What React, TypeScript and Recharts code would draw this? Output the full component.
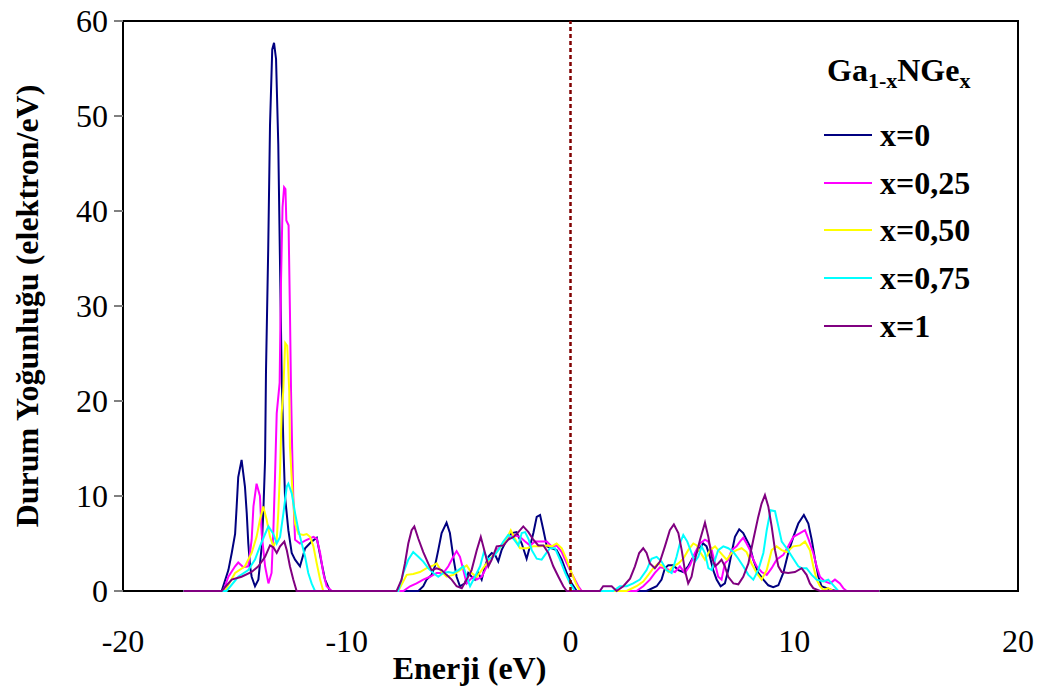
import React from 'react';
import { LineChart, Line, XAxis, YAxis, ReferenceLine, ReferenceArea, Legend, Label } from 'recharts';

// energy (eV) vs density of states, one list per composition
const dosX000: [number, number][] = [
  [-17.3, 0], [-15.59, 0], [-15.29, 2.2], [-15.14, 4.0], [-14.99, 6.0], [-14.92, 8.9], [-14.85, 12.0], [-14.7, 13.8],
  [-14.55, 11.0], [-14.47, 8.2], [-14.4, 5.0], [-14.32, 2.6], [-14.25, 1.5], [-14.1, 0.5], [-13.95, 1.2], [-13.8, 4.7],
  [-13.73, 8.2], [-13.65, 13.8], [-13.61, 23], [-13.51, 36], [-13.43, 49], [-13.33, 57], [-13.25, 57.7], [-13.16, 56],
  [-13.06, 47], [-12.98, 34], [-12.91, 23], [-12.83, 15.2], [-12.76, 10], [-12.61, 6.4], [-12.46, 4.0], [-12.31, 3.3],
  [-12.09, 2.6], [-11.86, 4.5], [-11.57, 5.2], [-11.34, 5.6], [-11.12, 2.9], [-10.97, 1.2], [-10.75, 0],
  [-6.8, 0], [-6.58, 0.5], [-6.43, 1.2], [-6.21, 1.7], [-6.06, 2.6], [-5.91, 4.3], [-5.76, 6.1], [-5.54, 7.2],
  [-5.39, 6.1], [-5.24, 3.6], [-5.09, 1.5], [-4.94, 0.5], [-4.72, 0.8], [-4.57, 1.9], [-4.42, 1.5], [-4.27, 1.2],
  [-4.12, 1.9], [-3.97, 1.2], [-3.82, 2.6], [-3.67, 3.6], [-3.52, 4.0], [-3.37, 3.8], [-3.23, 3.1], [-3.08, 4.3],
  [-2.85, 5.4], [-2.63, 6.1], [-2.41, 6.2], [-2.18, 5.0], [-1.96, 3.4], [-1.81, 4.7], [-1.66, 6.1], [-1.51, 7.8],
  [-1.36, 8.0], [-1.21, 6.4], [-1.06, 4.7], [-0.84, 4.5], [-0.62, 4.3], [-0.39, 3.3], [-0.17, 1.9], [0.05, 0.8], [0.28, 0],
  [3.4, 0], [3.85, 0.5], [4.07, 1.2], [4.22, 2.4], [4.37, 2.7], [4.59, 2.7], [4.82, 2.2], [5.04, 2.0], [5.26, 2.6],
  [5.49, 3.6], [5.71, 4.3], [5.93, 5.0], [6.08, 4.7], [6.23, 3.6], [6.38, 2.2], [6.53, 1.2], [6.71, 0.5], [6.9, 0.8],
  [7.05, 2.2], [7.2, 4.0], [7.35, 5.7], [7.54, 6.5], [7.72, 6.1], [7.87, 5.4], [8.02, 4.7], [8.17, 3.3], [8.39, 1.9],
  [8.62, 1.2], [8.84, 0.6], [9.06, 0.4], [9.29, 0.6], [9.51, 1.9], [9.73, 4.0], [9.96, 5.7], [10.18, 7.1], [10.43, 8.0],
  [10.63, 7.1], [10.78, 5.4], [10.93, 3.3], [11.08, 1.5], [11.22, 0.5], [11.45, 0.3], [11.67, 0.1], [11.9, 0], [13.8, 0],
];

const dosX025: [number, number][] = [
  [-17.3, 0], [-15.52, 0], [-15.29, 1.5], [-14.99, 2.6], [-14.85, 3.0], [-14.62, 2.5], [-14.4, 2.6], [-14.25, 5.4],
  [-14.17, 8.9], [-14.03, 11.3], [-13.88, 10.0], [-13.8, 6.0], [-13.65, 2.6], [-13.5, 0.8], [-13.36, 1.9], [-13.28, 6.4],
  [-13.21, 11.7], [-13.13, 18.7], [-13.0, 21.9], [-12.94, 32.4], [-12.87, 40.4], [-12.8, 42.5], [-12.74, 42.3],
  [-12.7, 39], [-12.6, 38.5], [-12.54, 29.6], [-12.49, 21], [-12.44, 15], [-12.39, 10], [-12.31, 5.4], [-12.09, 5.0],
  [-11.86, 5.3], [-11.49, 5.7], [-11.34, 5.5], [-11.19, 4.0], [-11.05, 1.9], [-10.9, 0.5], [-10.67, 0],
  [-7.47, 0], [-7.17, 0.5], [-6.88, 0.8], [-6.58, 1.2], [-6.28, 1.5], [-5.98, 1.9], [-5.68, 1.9], [-5.46, 2.6],
  [-5.24, 3.6], [-5.09, 4.2], [-4.94, 3.6], [-4.79, 2.2], [-4.64, 0.8], [-4.49, 1.2], [-4.34, 1.5], [-4.19, 1.2],
  [-3.97, 1.5], [-3.82, 2.2], [-3.6, 3.3], [-3.3, 4.3], [-3.0, 5.0], [-2.78, 5.7], [-2.55, 5.9], [-2.26, 5.7],
  [-2.03, 5.2], [-1.81, 4.8], [-1.59, 5.2], [-1.29, 5.2], [-1.06, 5.2], [-0.84, 4.7], [-0.62, 4.8], [-0.39, 4.1],
  [-0.17, 2.9], [0.13, 1.5], [0.35, 0.5], [0.5, 0],
  [2.95, 0], [3.25, 0.5], [3.55, 1.2], [3.77, 1.9], [4.0, 2.5], [4.22, 2.4], [4.44, 2.2], [4.67, 2.0], [4.89, 2.6],
  [5.11, 1.9], [5.34, 2.7], [5.56, 4.0], [5.79, 5.0], [6.01, 5.4], [6.16, 5.2], [6.31, 4.3], [6.46, 2.9], [6.6, 1.5],
  [6.75, 1.2], [6.9, 2.9], [7.05, 3.3], [7.2, 4.3], [7.42, 4.7], [7.57, 5.2], [7.72, 5.6], [7.87, 5.0], [8.02, 4.3],
  [8.17, 3.3], [8.32, 2.6], [8.54, 2.0], [8.77, 1.7], [8.99, 2.4], [9.21, 3.3], [9.51, 3.8], [9.73, 4.7], [9.96, 5.7],
  [10.26, 6.1], [10.48, 6.4], [10.63, 5.5], [10.85, 4.0], [11.0, 2.6], [11.15, 1.5], [11.37, 1.0], [11.6, 0.8],
  [11.82, 1.2], [12.04, 0.8], [12.19, 0.3], [12.34, 0], [13.8, 0],
];

const dosX050: [number, number][] = [
  [-17.3, 0], [-15.44, 0], [-14.99, 1.9], [-14.55, 2.6], [-14.25, 4.0], [-14.03, 5.7], [-13.88, 7.5], [-13.73, 8.9],
  [-13.58, 7.5], [-13.43, 5.7], [-13.28, 4.7], [-13.13, 5.4], [-13.06, 8.2], [-12.98, 12.7], [-12.91, 18.7],
  [-12.84, 21], [-12.75, 26.1], [-12.66, 25.8], [-12.57, 21], [-12.54, 15.2], [-12.43, 10.6], [-12.31, 7.1],
  [-12.16, 6.0], [-11.94, 5.9], [-11.79, 6.0], [-11.64, 5.7], [-11.49, 4.7], [-11.34, 2.9], [-11.19, 1.2], [-11.05, 0],
  [-7.7, 0], [-7.32, 1.7], [-7.03, 1.8], [-6.73, 2.0], [-6.43, 2.4], [-6.13, 2.7], [-5.98, 2.9], [-5.76, 2.0],
  [-5.54, 1.5], [-5.24, 1.7], [-4.94, 2.2], [-4.64, 2.7], [-4.42, 1.9], [-4.19, 1.5], [-3.97, 2.2], [-3.75, 2.9],
  [-3.52, 3.6], [-3.3, 4.1], [-3.08, 4.8], [-2.85, 5.5], [-2.67, 6.4], [-2.48, 5.5], [-2.26, 4.5], [-1.96, 4.5],
  [-1.66, 4.7], [-1.36, 4.7], [-1.06, 4.8], [-0.84, 4.7], [-0.62, 5.0], [-0.39, 4.5], [-0.17, 3.3], [0.05, 1.9],
  [0.28, 0.6], [0.43, 0],
  [2.51, 0], [2.95, 0.5], [3.25, 1.0], [3.48, 1.7], [3.7, 2.4], [3.92, 2.9], [4.15, 2.6], [4.37, 2.0], [4.59, 2.6],
  [4.82, 2.9], [5.04, 3.4], [5.26, 4.3], [5.49, 5.0], [5.64, 4.8], [5.79, 4.1], [6.01, 3.3], [6.23, 4.3], [6.46, 4.7],
  [6.68, 4.1], [6.98, 3.3], [7.2, 4.0], [7.42, 4.3], [7.65, 4.5], [7.87, 4.1], [8.09, 2.9], [8.32, 1.9], [8.54, 1.2],
  [8.77, 2.2], [8.99, 4.3], [9.21, 4.7], [9.44, 4.3], [9.66, 4.1], [9.96, 4.7], [10.26, 4.8], [10.48, 5.2], [10.7, 4.3],
  [10.85, 2.6], [11.0, 1.2], [11.15, 0.5], [11.3, 0.1], [11.52, 0.3], [11.75, 0], [13.8, 0],
];

const dosX075: [number, number][] = [
  [-17.3, 0], [-15.37, 0], [-14.85, 1.5], [-14.4, 2.2], [-14.1, 3.3], [-13.88, 4.7], [-13.65, 6.0], [-13.5, 6.8],
  [-13.28, 6.0], [-13.13, 5.0], [-12.98, 5.7], [-12.83, 8.2], [-12.68, 11.0], [-12.61, 11.3], [-12.46, 10.3],
  [-12.31, 8.2], [-12.16, 6.4], [-12.01, 5.0], [-11.86, 3.6], [-11.72, 1.9], [-11.57, 0.8], [-11.42, 0],
  [-7.7, 0], [-7.47, 1.9], [-7.25, 3.3], [-7.03, 4.1], [-6.8, 3.6], [-6.58, 3.1], [-6.36, 2.4], [-6.13, 1.9],
  [-5.91, 1.5], [-5.68, 1.9], [-5.46, 2.0], [-5.24, 1.9], [-5.01, 2.2], [-4.79, 2.6], [-4.64, 1.5], [-4.49, 0.5],
  [-4.27, 1.5], [-4.04, 2.6], [-3.87, 4.1], [-3.67, 3.3], [-3.45, 3.6], [-3.23, 4.3], [-3.0, 5.2], [-2.78, 5.9],
  [-2.55, 5.5], [-2.33, 4.8], [-2.18, 6.1], [-2.03, 6.2], [-1.88, 5.5], [-1.73, 4.3], [-1.51, 3.4], [-1.29, 3.3],
  [-1.14, 3.8], [-0.92, 4.5], [-0.69, 4.5], [-0.47, 3.3], [-0.24, 1.9], [-0.02, 0.8], [0.2, 0],
  [1.91, 0], [2.21, 0.5], [2.51, 0.5], [2.8, 0.8], [3.1, 1.2], [3.4, 2.2], [3.62, 3.4], [3.85, 3.6], [4.07, 3.1],
  [4.29, 2.2], [4.52, 1.9], [4.74, 3.6], [4.89, 5.0], [5.04, 5.9], [5.22, 5.2], [5.41, 4.0], [5.56, 3.1], [5.71, 3.6],
  [5.86, 4.7], [6.01, 4.0], [6.16, 2.4], [6.31, 2.2], [6.46, 3.3], [6.6, 4.3], [6.83, 4.7], [7.05, 4.5], [7.28, 4.1],
  [7.5, 3.4], [7.72, 2.6], [7.95, 1.7], [8.17, 1.2], [8.39, 2.2], [8.62, 4.0], [8.77, 6.4], [8.94, 8.5], [9.14, 8.4],
  [9.29, 6.8], [9.44, 5.2], [9.66, 4.5], [9.96, 3.4], [10.18, 2.6], [10.33, 2.4], [10.55, 2.4], [10.78, 1.7],
  [11.0, 1.2], [11.3, 1.0], [11.52, 1.2], [11.75, 0.6], [11.97, 0], [13.8, 0],
];

const dosX100: [number, number][] = [
  [-17.3, 0], [-15.59, 0], [-15.14, 1.2], [-14.7, 1.5], [-14.25, 2.0], [-13.95, 2.6], [-13.65, 3.6], [-13.43, 4.8],
  [-13.28, 4.6], [-13.13, 4.0], [-12.98, 4.7], [-12.79, 5.2], [-12.68, 4.3], [-12.54, 2.6], [-12.39, 1.2], [-12.24, 0],
  [-7.77, 0], [-7.55, 1.2], [-7.4, 2.9], [-7.25, 5.0], [-7.1, 6.4], [-6.98, 6.8], [-6.8, 5.5], [-6.58, 4.1],
  [-6.36, 2.9], [-6.21, 2.2], [-5.98, 2.4], [-5.76, 2.2], [-5.54, 1.7], [-5.31, 1.2], [-5.09, 0.5], [-4.86, 0.3],
  [-4.64, 1.2], [-4.42, 2.2], [-4.19, 4.3], [-4.01, 5.7], [-3.82, 4.0], [-3.67, 2.6], [-3.52, 3.3], [-3.3, 4.7],
  [-3.0, 4.8], [-2.78, 5.4], [-2.55, 5.7], [-2.33, 6.2], [-2.11, 6.8], [-1.88, 6.2], [-1.66, 5.4], [-1.44, 4.8],
  [-1.21, 4.8], [-0.99, 4.0], [-0.77, 2.6], [-0.54, 1.5], [-0.32, 0.5], [-0.17, 0],
  [1.31, 0], [1.46, 0.5], [1.84, 0.5], [2.06, 0], [2.36, 0.5], [2.66, 1.3], [2.88, 2.6], [3.07, 4.0], [3.25, 4.5],
  [3.4, 4.0], [3.55, 2.9], [3.77, 2.4], [4.0, 3.1], [4.22, 4.7], [4.44, 6.4], [4.62, 7.0], [4.82, 6.1], [4.97, 4.3],
  [5.11, 2.2], [5.26, 0.8], [5.41, 1.5], [5.56, 3.3], [5.79, 5.4], [6.01, 7.2], [6.16, 5.7], [6.31, 3.6], [6.46, 2.6],
  [6.6, 2.9], [6.75, 3.3], [6.9, 2.6], [7.05, 1.5], [7.28, 0.8], [7.5, 0.7], [7.72, 1.5], [7.95, 2.9], [8.17, 5.4],
  [8.39, 7.8], [8.54, 9.2], [8.69, 10.1], [8.84, 8.9], [8.99, 6.8], [9.14, 4.3], [9.29, 2.6], [9.44, 2.0], [9.73, 1.9],
  [10.03, 2.0], [10.33, 2.4], [10.55, 1.7], [10.7, 0.8], [10.85, 0.3], [11.15, 0], [13.8, 0],
];

const seriesNames = ['x=0', 'x=0,25', 'x=0,50', 'x=0,75', 'x=1'];
const seriesColors = ['#000080', '#FF00FF', '#FFFF00', '#00FFFF', '#800080'];
const seriesData = [dosX000, dosX025, dosX050, dosX075, dosX100];

const energyTicks = [-20, -10, 0, 10, 20];
const dosTicks = [0, 10, 20, 30, 40, 50, 60];

const serif = "'Liberation Serif', 'Times New Roman', serif";

const EnergyTick = (props: any) => {
  const { x, y, payload } = props;
  return (
    <text x={x} y={y} dy={61} textAnchor="middle" fontFamily={serif} fontSize={32} fill="#000">
      {payload.value}
    </text>
  );
};

const DosTick = (props: any) => {
  const { x, y, payload } = props;
  return (
    <text x={x} y={y} dy={11} textAnchor="end" fontFamily={serif} fontSize={32} fill="#000">
      {payload.value}
    </text>
  );
};

// axis title placed under the plot, a bit left of its centre like the original
const XTitle = (props: any) => {
  const { x, y, width } = props.viewBox;
  return (
    <text x={x + width / 2 - 101} y={y + 88} textAnchor="middle" fontFamily={serif} fontWeight="bold" fontSize={32} fill="#000">
      Enerji (eV)
    </text>
  );
};

const YTitle = (props: any) => {
  const { x, y, height } = props.viewBox;
  const cx = x + 27;
  const cy = y + height / 2;
  return (
    <text x={cx} y={cy} dy={11} transform={`rotate(-90 ${cx} ${cy})`} textAnchor="middle" fontFamily={serif} fontWeight="bold" fontSize={32} fill="#000">
      Durum Yoğunluğu (elektron/eV)
    </text>
  );
};

const DosLegend = () => (
  <div style={{ fontFamily: serif, fontWeight: 'bold', fontSize: 32, color: '#000' }}>
    <div style={{ height: 63, lineHeight: '44px', paddingLeft: 3, whiteSpace: 'nowrap' }}>
      Ga<sub style={{ fontSize: 22 }}>1-x</sub>NGe<sub style={{ fontSize: 22 }}>x</sub>
    </div>
    {seriesNames.map((name, i) => (
      <div key={name} style={{ height: 47.75, display: 'flex', alignItems: 'center' }}>
        <div style={{ width: 48, height: 2, background: seriesColors[i], marginRight: 8 }} />
        <span style={{ lineHeight: '32px' }}>{name}</span>
      </div>
    ))}
  </div>
);

export default function App() {
  return (
    <div style={{ position: 'absolute', left: 0, top: 0 }}>
      <LineChart width={1042} height={689} margin={{ top: 21, right: 24, left: 0, bottom: 0 }}>
        <XAxis
          type="number"
          dataKey="e"
          domain={[-20, 20]}
          ticks={energyTicks}
          tick={<EnergyTick />}
          tickLine={false}
          tickSize={0}
          tickMargin={0}
          axisLine={false}
          height={98}
          allowDataOverflow
        >
          <Label content={<XTitle />} />
        </XAxis>
        <YAxis
          type="number"
          domain={[0, 60]}
          ticks={dosTicks}
          tick={<DosTick />}
          tickSize={9}
          tickMargin={6}
          tickLine={{ stroke: '#808080', strokeWidth: 2 }}
          axisLine={false}
          width={123}
        >
          <Label content={<YTitle />} />
        </YAxis>
        <ReferenceArea x1={-20} x2={20} y1={0} y2={60} fill="none" stroke="#000" strokeWidth={2} />
        {seriesData.map((pts, i) => (
          <Line
            key={seriesNames[i]}
            name={seriesNames[i]}
            data={pts.map(([e, d]) => ({ e, d }))}
            dataKey="d"
            type="linear"
            stroke={seriesColors[i]}
            strokeWidth={2}
            dot={false}
            activeDot={false}
            isAnimationActive={false}
          />
        ))}
        <ReferenceLine x={0} stroke="#800000" strokeWidth={2.5} strokeDasharray="4 3" />
        <Legend
          layout="vertical"
          align="center"
          verticalAlign="middle"
          content={<DosLegend />}
          wrapperStyle={{ position: 'absolute', left: 824, top: 48, width: 200, height: 'auto' }}
        />
      </LineChart>
    </div>
  );
}
